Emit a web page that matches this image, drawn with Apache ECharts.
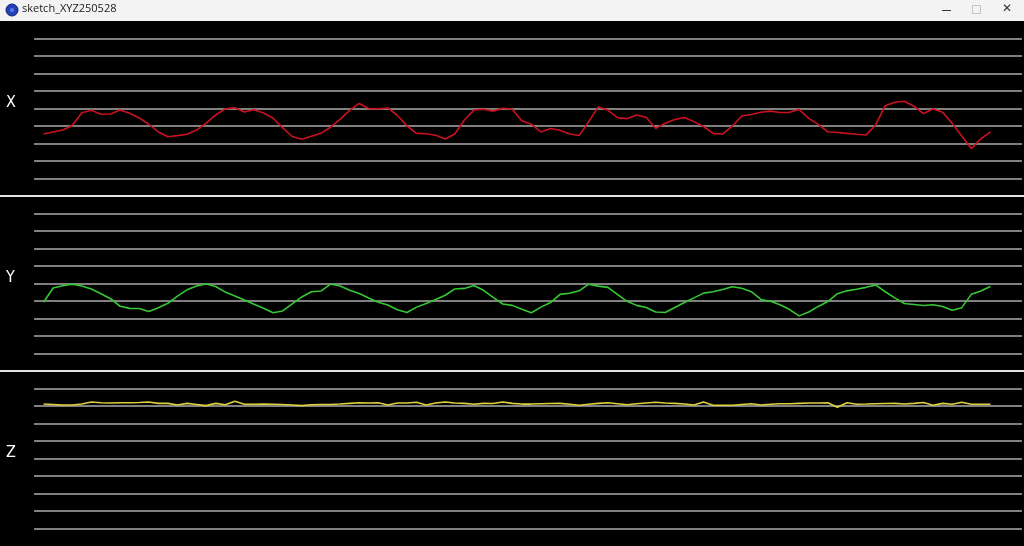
<!DOCTYPE html>
<html><head><meta charset="utf-8">
<script src="https://cdn.jsdelivr.net/npm/echarts/dist/echarts.min.js"></script>
<style>html,body{margin:0;padding:0;background:#000;overflow:hidden}#c{width:1024px;height:546px}</style>
</head><body><div id="c"></div>
<script>
// Sample values (arbitrary units; each panel spans -5..5, gridline every 1)
const xValues = [-1.46,-1.34,-1.23,-0.97,-0.24,-0.10,-0.33,-0.31,-0.09,-0.27,
-0.54,-0.90,-1.34,-1.61,-1.55,-1.47,-1.23,-0.83,-0.37,-0.02,
0.04,-0.20,-0.07,-0.26,-0.56,-1.11,-1.60,-1.76,-1.58,-1.42,
-1.07,-0.62,-0.11,0.29,0.00,-0.02,0.03,-0.40,-1.00,-1.42,
-1.44,-1.53,-1.74,-1.46,-0.66,-0.09,-0.04,-0.15,0.01,-0.04,
-0.70,-0.90,-1.34,-1.14,-1.24,-1.46,-1.54,-0.75,0.09,-0.09,
-0.52,-0.58,-0.37,-0.50,-1.14,-0.84,-0.63,-0.51,-0.75,-1.03,
-1.42,-1.46,-1.01,-0.43,-0.34,-0.21,-0.15,-0.23,-0.22,-0.06,
-0.56,-0.91,-1.33,-1.37,-1.42,-1.47,-1.51,-0.94,0.16,0.36,
0.41,0.13,-0.29,-0.03,-0.22,-0.85,-1.57,-2.29,-1.73,-1.34];
const yValues = [-1.07,-0.26,-0.13,-0.04,-0.14,-0.31,-0.59,-0.87,-1.30,-1.42,
-1.43,-1.60,-1.38,-1.13,-0.72,-0.36,-0.14,-0.03,-0.17,-0.49,
-0.71,-0.94,-1.18,-1.42,-1.67,-1.57,-1.17,-0.77,-0.47,-0.43,
-0.03,-0.14,-0.39,-0.57,-0.83,-1.07,-1.23,-1.50,-1.66,-1.35,
-1.14,-0.92,-0.67,-0.31,-0.28,-0.11,-0.39,-0.79,-1.17,-1.25,
-1.47,-1.67,-1.35,-1.09,-0.62,-0.56,-0.42,-0.04,-0.15,-0.22,
-0.62,-1.02,-1.25,-1.37,-1.63,-1.66,-1.37,-1.09,-0.82,-0.55,
-0.47,-0.34,-0.19,-0.27,-0.47,-0.91,-1.02,-1.21,-1.49,-1.85,
-1.63,-1.31,-1.03,-0.58,-0.42,-0.33,-0.22,-0.08,-0.47,-0.82,
-1.14,-1.20,-1.26,-1.21,-1.31,-1.53,-1.38,-0.62,-0.43,-0.17];
const zValues = [3.11,3.09,3.06,3.06,3.11,3.23,3.19,3.17,3.19,3.19,
3.20,3.23,3.15,3.15,3.06,3.15,3.09,3.02,3.15,3.07,
3.27,3.10,3.10,3.11,3.10,3.09,3.06,3.02,3.07,3.09,
3.09,3.11,3.15,3.19,3.17,3.19,3.06,3.17,3.17,3.21,
3.06,3.17,3.23,3.17,3.15,3.10,3.15,3.14,3.23,3.15,
3.11,3.11,3.13,3.14,3.15,3.10,3.04,3.10,3.15,3.19,
3.13,3.07,3.13,3.17,3.21,3.17,3.15,3.11,3.06,3.23,
3.04,3.04,3.04,3.09,3.13,3.06,3.10,3.13,3.13,3.15,
3.17,3.17,3.19,2.93,3.19,3.10,3.11,3.13,3.14,3.15,
3.11,3.15,3.20,3.04,3.15,3.10,3.21,3.10,3.10,3.10];
const panelLabels = ['X','Y','Z'];
const seriesColors = ['#cc1020','#34c834','#ddd03a'];
const windowTitle = 'sketch_XYZ250528';

const chart = echarts.init(document.getElementById('c'), null, {renderer:'canvas'});
const panels = [xValues, yValues, zValues];
const TOP = 21, PH = 175;
const grids = [], xAxes = [], yAxes = [], series = [], graphics = [];
panels.forEach((vals, k) => {
  grids.push({left:34, right:2, top:TOP + PH*k, height:PH, containLabel:false});
  xAxes.push({type:'value', gridIndex:k, min:-1, max:102.3, show:false});
  yAxes.push({type:'value', gridIndex:k, min:-5, max:5, interval:1,
    axisLine:{show:false}, axisTick:{show:false}, axisLabel:{show:false},
    splitLine:{show:true, showMinLine:false, showMaxLine:false,
      lineStyle:{color:'#808080', width:2}}});
  series.push({type:'line', xAxisIndex:k, yAxisIndex:k, symbol:'none',
    data: vals.map((v,i)=>[i,v]),
    lineStyle:{color:seriesColors[k], width:1.6}, silent:true, animation:false});
  graphics.push({type:'text', left:6, top:TOP + PH*k + 74, z:100,
    style:{text:panelLabels[k], fill:'#ffffff', font:'16px "Liberation Sans Narrow", "DejaVu Sans Condensed", sans-serif'}});
  if (k > 0) {
    graphics.push({type:'line', z:100, shape:{x1:0, y1:TOP+PH*k, x2:1024, y2:TOP+PH*k},
      style:{stroke:'#e4e4e4', lineWidth:2}});
  }
});
// window chrome
graphics.push({type:'rect', z:100, shape:{x:0,y:0,width:1024,height:21}, style:{fill:'#f3f3f3'}});
graphics.push({type:'circle', z:101, shape:{cx:12,cy:10,r:6}, style:{fill:'#2340b8', stroke:'#0d1f70', lineWidth:1}});
graphics.push({type:'circle', z:102, shape:{cx:12,cy:10,r:2}, style:{fill:'#5e7be0'}});
graphics.push({type:'text', z:101, left:22, top:3,
  style:{text:windowTitle, fill:'#1a1a1a', font:'11px "Open Sans", "Noto Sans", sans-serif'}});
graphics.push({type:'line', z:101, shape:{x1:942,y1:10.5,x2:951,y2:10.5}, style:{stroke:'#333',lineWidth:1}});
graphics.push({type:'rect', z:101, shape:{x:972.5,y:5.5,width:8,height:8}, style:{fill:'none',stroke:'#c4c4c4',lineWidth:1}});
graphics.push({type:'text', z:101, left:1002, top:3, style:{text:'✕', fill:'#333', font:'12px "DejaVu Sans", sans-serif'}});

chart.setOption({
  backgroundColor:'#000000',
  animation:false,
  grid:grids, xAxis:xAxes, yAxis:yAxes, series:series,
  graphic:graphics
});
</script></body></html>
